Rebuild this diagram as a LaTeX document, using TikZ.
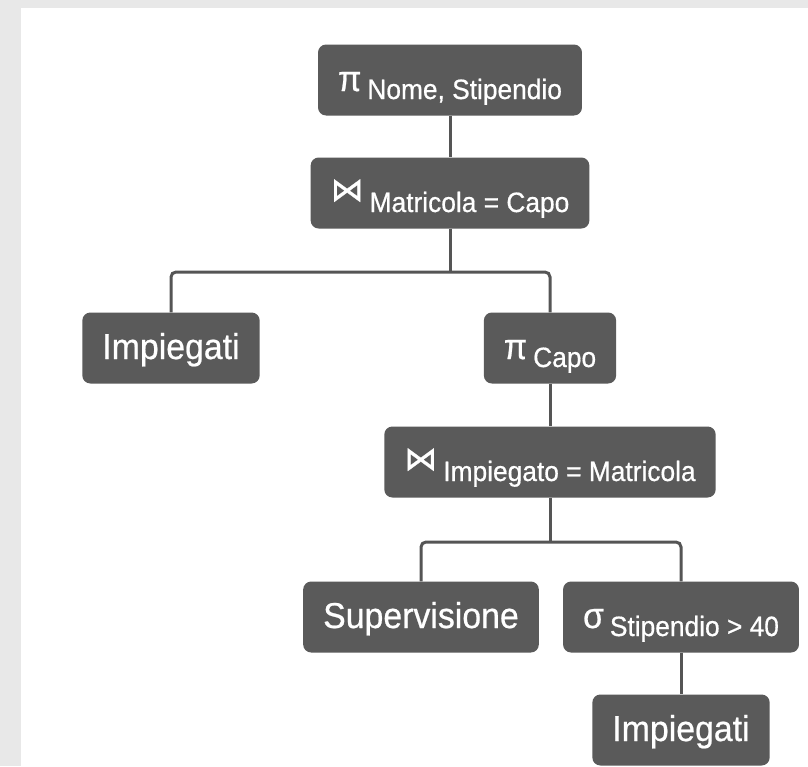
\documentclass[tikz,border=0pt]{standalone}
\usepackage{fontspec}
\setmainfont[FakeStretch=0.94,FakeBold=0.6]{Liberation Sans}
\newfontfamily\bowtiefont[FakeBold=0.6]{DejaVu Sans}
\definecolor{boxgray}{HTML}{5A5A5A}
\definecolor{linegray}{HTML}{555555}
\definecolor{pagegray}{HTML}{E8E8E8}
\newcommand{\attrs}[1]{\,\raisebox{-8pt}{\fontsize{28}{30}\selectfont #1}}
\newcommand{\joinop}{\raisebox{3pt}{\bowtiefont\fontsize{33}{36}\selectfont ⋈}}

\begin{document}
\begin{tikzpicture}[x=1pt,y=-1pt]
    \tikzstyle{every node}=[fill=boxgray,text=white,rounded corners=8pt,minimum height=71pt,text height=26pt,text depth=4pt,inner xsep=20pt,font=\fontsize{36}{40}\selectfont];
    \tikzstyle{wire}=[draw=linegray,line width=3pt,rounded corners=5pt];
    \useasboundingbox (0,0) rectangle (808,766);
    \fill[pagegray] (0,0) rectangle (808,766);
    \fill[white] (21,8) rectangle (808,766);

    \node at (450, 80)  (n1) {π\attrs{Nome, Stipendio}};
    \node at (450, 193) (n2) {\joinop\attrs{Matricola = Capo}};
    \node at (171, 348) (n3) {Impiegati};
    \node at (550, 348) (n4) {π\attrs{Capo}};
    \node at (550, 462) (n5) {\joinop\attrs{Impiegato = Matricola}};
    \node at (421, 617) (n6) {Supervisione};
    \node at (681, 617) (n7) {σ\attrs{Stipendio > 40}};
    \node at (681, 730) (n8) {Impiegati};

    \coordinate (fork1) at (450, 272);
    \coordinate (fork2) at (550, 542);

    \draw[wire] (n1) -- (n2);
    \draw[wire] (n2) -- (fork1);
    \draw[wire] (n3) |- (fork1) -| (n4);
    \draw[wire] (n4) -- (n5);
    \draw[wire] (n5) -- (fork2);
    \draw[wire] (n6) |- (fork2) -| (n7);
    \draw[wire] (n7) -- (n8);
\end{tikzpicture}
\end{document}
